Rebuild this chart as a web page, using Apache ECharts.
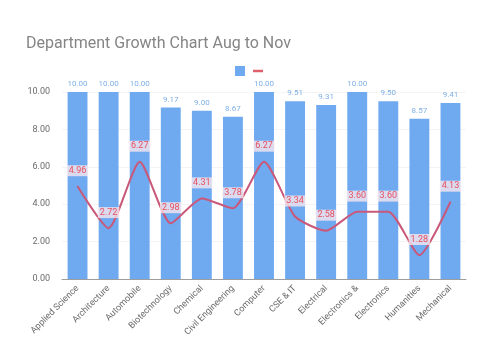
<!DOCTYPE html>
<html><head><meta charset="utf-8">
<script src="https://cdn.jsdelivr.net/npm/echarts@6/dist/echarts.min.js"></script>
<style>html,body{margin:0;padding:0;background:#fff}#c{width:481px;height:362px}</style>
</head><body><div id="c"></div>
<script>
const categories = ['Applied Science','Architecture','Automobile','Biotechnology','Chemical','Civil Engineering','Computer','CSE & IT','Electrical','Electronics &','Electronics','Humanities','Mechanical'];
const barValues = [10.00, 10.00, 10.00, 9.17, 9.00, 8.67, 10.00, 9.51, 9.31, 10.00, 9.50, 8.57, 9.41];
const lineValues = [4.96, 2.72, 6.27, 2.98, 4.31, 3.78, 6.27, 3.34, 2.58, 3.60, 3.60, 1.28, 4.13];
const yTicks = [0, 2, 4, 6, 8, 10];

const chart = echarts.init(document.getElementById('c'));
chart.setOption({
  backgroundColor: '#fff',
  animation: false,
  title: {
    text: 'Department Growth Chart Aug to Nov',
    left: 21, top: 31,
    textStyle: { color: '#858585', fontSize: 16, fontWeight: 'normal', fontFamily: 'Roboto' }
  },
  legend: {
    top: 61, left: 230,
    itemGap: 8, itemWidth: 10, itemHeight: 10,
    formatter: () => '',
    data: [
      { name: 'Growth', icon: 'rect', itemStyle: { color: '#6fa9f0' } },
      { name: 'Change', icon: 'path://M0,0H12V3H0Z', itemStyle: { color: '#e0616c' } }
    ]
  },
  grid: { left: 62, right: 15, top: 92, bottom: 83 },
  xAxis: {
    type: 'category',
    data: categories,
    axisTick: { show: false },
    axisLine: { lineStyle: { color: '#9e9e9e' } },
    axisLabel: { rotate: 45, color: '#6b6b6b', fontSize: 9, interval: 0, margin: 8, fontFamily: 'Roboto' }
  },
  yAxis: {
    type: 'value', min: 0, max: 10, interval: 2,
    axisLabel: { color: '#6b6b6b', fontSize: 9, formatter: v => v.toFixed(2), margin: 12, fontFamily: 'Roboto' },
    splitLine: { lineStyle: { color: '#f4f4f4' } },
    axisLine: { show: false }, axisTick: { show: false }
  },
  series: [
    {
      name: 'Growth', type: 'bar', data: barValues, barWidth: '64%',
      itemStyle: { color: '#6fa9f0' },
      label: { show: true, position: 'top', color: '#7fb0e6', fontSize: 8, distance: 4, formatter: p => p.value.toFixed(2), fontFamily: 'Roboto' }
    },
    {
      name: 'Change', type: 'line', data: lineValues, smooth: 0.2,
      showSymbol: true, symbolSize: 0.1,
      lineStyle: { color: '#c9587a', width: 2 },
      itemStyle: { color: '#c9587a' },
      label: { show: true, position: 'top', distance: 9, color: '#e8505e', fontSize: 9, fontFamily: 'Roboto',
        backgroundColor: 'rgba(255,235,238,0.75)', padding: [1, 2],
        formatter: p => p.value.toFixed(2) }
    }
  ]
});
</script></body></html>
